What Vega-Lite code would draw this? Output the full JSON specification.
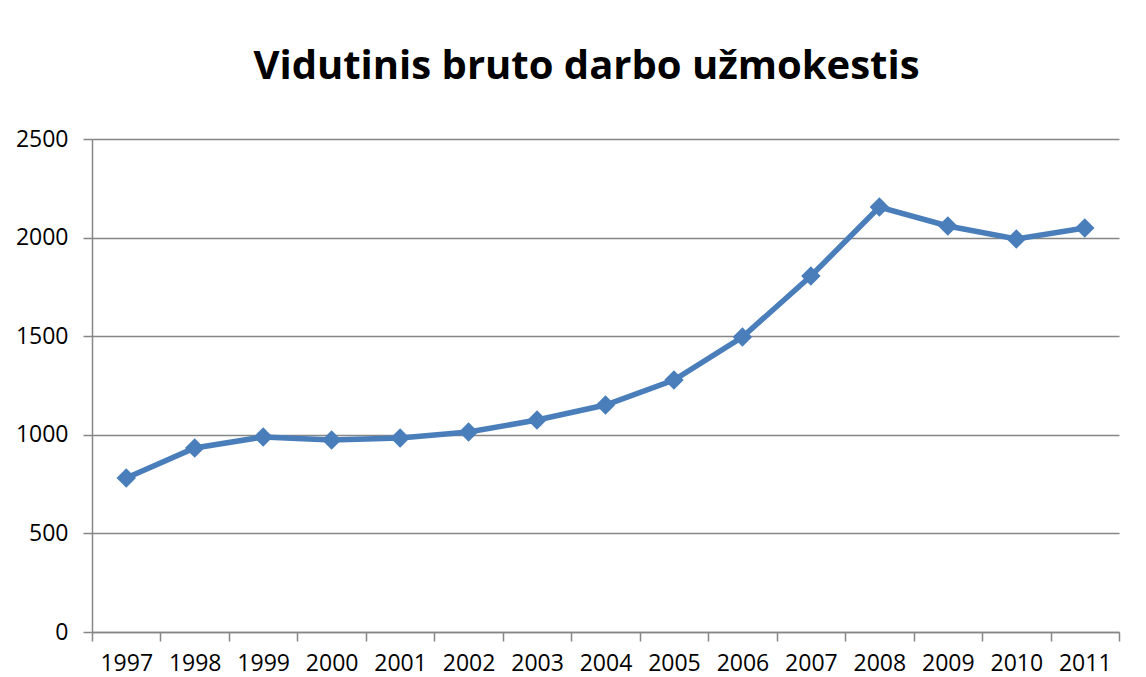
{
  "$schema": "https://vega.github.io/schema/vega-lite/v6.json",
  "width": 1027,
  "height": 493,
  "autosize": {"type": "none"},
  "padding": {"left": 92, "top": 139, "right": 27, "bottom": 45},
  "background": "white",
  "title": {
    "text": "Vidutinis bruto darbo užmokestis",
    "font": "Open Sans",
    "fontSize": 40,
    "fontWeight": "bold",
    "color": "#000000",
    "anchor": "middle",
    "baseline": "alphabetic",
    "offset": 9,
    "dx": -19
  },
  "config": {
    "view": {"stroke": null},
    "axis": {
      "labelFont": "Open Sans",
      "labelFontSize": 23,
      "labelColor": "#000000",
      "domainColor": "#868686",
      "tickColor": "#868686",
      "gridColor": "#868686",
      "domainWidth": 1.5,
      "tickWidth": 1.5,
      "gridWidth": 1.5,
      "tickSize": 9
    }
  },
  "data": {
    "values": [
      {"year": "1997", "value": 781},
      {"year": "1998", "value": 933},
      {"year": "1999", "value": 989},
      {"year": "2000", "value": 974},
      {"year": "2001", "value": 984},
      {"year": "2002", "value": 1014},
      {"year": "2003", "value": 1075},
      {"year": "2004", "value": 1151},
      {"year": "2005", "value": 1278},
      {"year": "2006", "value": 1496},
      {"year": "2007", "value": 1805},
      {"year": "2008", "value": 2155},
      {"year": "2009", "value": 2059},
      {"year": "2010", "value": 1993},
      {"year": "2011", "value": 2049}
    ]
  },
  "mark": {
    "type": "line",
    "color": "#4A7EBB",
    "strokeWidth": 5.5,
    "point": {"shape": "diamond", "size": 380, "filled": true, "color": "#4A7EBB", "opacity": 1}
  },
  "encoding": {
    "x": {
      "field": "year",
      "type": "ordinal",
      "scale": {"type": "band", "paddingInner": 0, "paddingOuter": 0},
      "axis": {
        "title": null,
        "labelAngle": 0,
        "tickBand": "extent",
        "labelPadding": 11,
        "grid": false
      }
    },
    "y": {
      "field": "value",
      "type": "quantitative",
      "scale": {"domain": [0, 2500]},
      "axis": {
        "title": null,
        "values": [0, 500, 1000, 1500, 2000, 2500],
        "format": "d",
        "grid": true,
        "labelPadding": 15
      }
    }
  }
}
